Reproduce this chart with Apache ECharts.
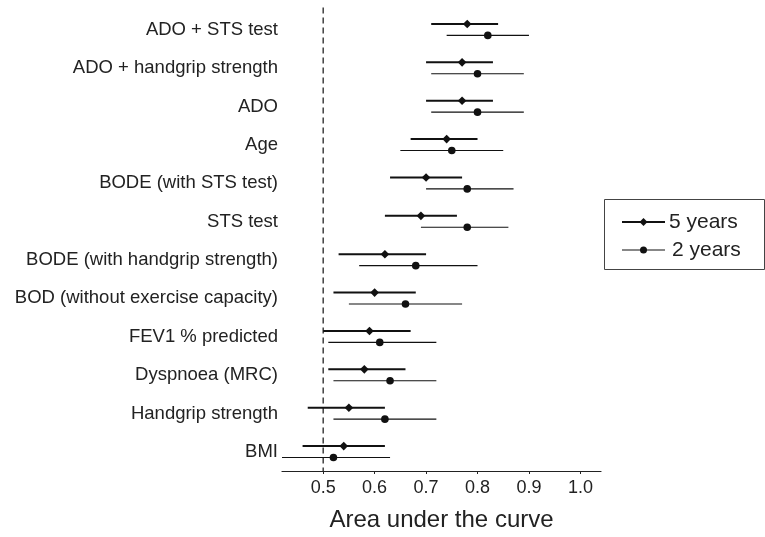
<!DOCTYPE html>
<html>
<head>
<meta charset="utf-8">
<script src="https://cdn.jsdelivr.net/npm/echarts@6/dist/echarts.min.js"></script>
<style>html,body{margin:0;padding:0;background:#fff;}#c{width:765px;height:537px;}</style>
</head>
<body>
<div id="c"></div>
<script>
const categories = ['ADO + STS test','ADO + handgrip strength','ADO','Age','BODE (with STS test)','STS test','BODE (with handgrip strength)','BOD (without exercise capacity)','FEV1 % predicted','Dyspnoea (MRC)','Handgrip strength','BMI'];
const fiveLo  = [0.71,0.70,0.70,0.67,0.63,0.62,0.53,0.52,0.50,0.51,0.47,0.46];
const fiveMid = [0.78,0.77,0.77,0.74,0.70,0.69,0.62,0.60,0.59,0.58,0.55,0.54];
const fiveHi  = [0.84,0.83,0.83,0.80,0.77,0.76,0.70,0.68,0.67,0.66,0.62,0.62];
const twoLo   = [0.74,0.71,0.71,0.65,0.70,0.69,0.57,0.55,0.51,0.52,0.52,0.42];
const twoMid  = [0.82,0.80,0.80,0.75,0.78,0.78,0.68,0.66,0.61,0.63,0.62,0.52];
const twoHi   = [0.90,0.89,0.89,0.85,0.87,0.86,0.80,0.77,0.72,0.72,0.72,0.63];
const xTicks  = [0.5,0.6,0.7,0.8,0.9,1.0];
const refValue = 0.5;
const seriesNames = ['5 years','2 years'];

function build(lo, mid, hi){ return categories.map((c,i)=>[mid[i], i, lo[i], hi[i]]); }

function makeRender(offset, lw, marker){
  return function(params, api){
    const cat = api.value(1);
    const md = api.coord([api.value(0), cat]);
    const lo = api.coord([api.value(2), cat]);
    const hi = api.coord([api.value(3), cat]);
    const y = md[1] + offset;
    const children = [{
      type:'line', shape:{x1:lo[0], y1:y, x2:hi[0], y2:y},
      style:{stroke:'#111', lineWidth:lw}
    }];
    if (marker === 'diamond') {
      const r = 4.3;
      children.push({type:'polygon', shape:{points:[[md[0],y-r],[md[0]+r,y],[md[0],y+r],[md[0]-r,y]]}, style:{fill:'#111'}});
    } else {
      children.push({type:'circle', shape:{cx:md[0], cy:y, r:3.8}, style:{fill:'#111'}});
    }
    return {type:'group', children};
  };
}

function renderRef(params, api){
  const p = api.coord([api.value(0), 0]);
  const cs = params.coordSys;
  return {type:'line', shape:{x1:p[0], y1:cs.y - 3, x2:p[0], y2:cs.y + cs.height},
          style:{stroke:'#111', lineWidth:1.2, lineDash:[6,4]}};
}

const chart = echarts.init(document.getElementById('c'), null, {renderer:'canvas'});
const font = 'Liberation Sans, Arial, Helvetica, sans-serif';
chart.setOption({
  animation:false,
  backgroundColor:'#fff',
  grid:{left:282, right:164, top:10.5, bottom:65.3, containLabel:false},
  xAxis:{
    type:'value', min:0.42, max:1.04,
    name:'Area under the curve', nameLocation:'middle', nameGap:37,
    nameTextStyle:{fontSize:24, color:'#222', fontFamily:font},
    axisLine:{show:true, lineStyle:{color:'#222', width:1.2}},
    axisTick:{show:true, length:3, customValues:xTicks, lineStyle:{color:'#222'}},
    axisLabel:{customValues:xTicks, fontSize:18, color:'#222', fontFamily:font, margin:8, formatter:v=>v.toFixed(1)},
    splitLine:{show:false}
  },
  yAxis:{
    type:'category', data:categories, inverse:true,
    axisLine:{show:false}, axisTick:{show:false}, splitLine:{show:false},
    axisLabel:{fontSize:18.5, color:'#222', fontFamily:font, margin:4}
  },
  series:[
    {type:'custom', renderItem:renderRef, data:[[refValue, 0]], silent:true, z:1},
    {name:seriesNames[0], type:'custom', renderItem:makeRender(-5.7, 2, 'diamond'), data:build(fiveLo,fiveMid,fiveHi), z:2},
    {name:seriesNames[1], type:'custom', renderItem:makeRender(5.7, 1.2, 'circle'), data:build(twoLo,twoMid,twoHi), z:2}
  ],
  graphic:[
    {type:'rect', shape:{x:604.5, y:199.5, width:160, height:70}, style:{fill:'#fff', stroke:'#444', lineWidth:1}},
    {type:'line', shape:{x1:622, y1:222, x2:665, y2:222}, style:{stroke:'#111', lineWidth:1.8}},
    {type:'polygon', shape:{points:[[643.5,218],[647.5,222],[643.5,226],[639.5,222]]}, style:{fill:'#111'}},
    {type:'text', x:669, y:222, style:{text:seriesNames[0], fill:'#222', font:'21px '+font, verticalAlign:'middle'}},
    {type:'line', shape:{x1:622, y1:250, x2:665, y2:250}, style:{stroke:'#111', lineWidth:1.2}},
    {type:'circle', shape:{cx:643.5, cy:250, r:3.5}, style:{fill:'#111'}},
    {type:'text', x:672, y:250, style:{text:seriesNames[1], fill:'#222', font:'21px '+font, verticalAlign:'middle'}}
  ]
});
</script>
</body>
</html>
